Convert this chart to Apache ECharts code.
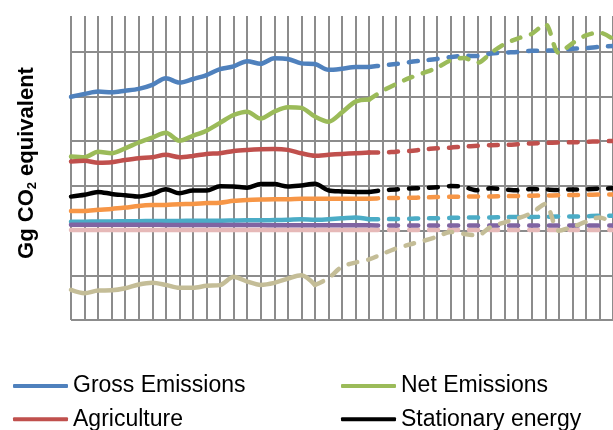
<!DOCTYPE html>
<html>
<head>
<meta charset="utf-8">
<script src="https://cdn.jsdelivr.net/npm/echarts@6/dist/echarts.min.js"></script>
<style>
  html, body { margin: 0; padding: 0; background: #ffffff; }
  #chart { width: 613px; height: 430px; }
</style>
</head>
<body>
<div id="chart"></div>
<script>
// Emissions by sector, Gg CO2 equivalent: inventory years then projections
const years = ['1990','1991','1992','1993','1994','1995','1996','1997','1998','1999',
  '2000','2001','2002','2003','2004','2005','2006','2007','2008','2009',
  '2010','2011','2012','2013','2014','2015','2016','2017','2018','2019',
  '2020','2021','2022','2023','2024','2025','2026','2027','2028','2029','2030'];

const grossEmissions = [59900, 61100, 62200, 61900, 62600, 63400, 65200, 68200, 66200, 67800,
  69600, 72200, 73500, 75800, 74600, 77100, 76800, 74800, 74500, 71900,
  72400, 73200, 73200, 73900, 74500, 75400, 76100, 76800, 77600, 78200,
  78100, 79200, 79600, 79900, 80400, 80500, 80700, 81300, 81600, 82200, 82600];

const netEmissions = [33100, 32800, 35300, 34600, 36800, 39400, 41600, 43800, 40200, 42400,
  44700, 48200, 51700, 53200, 50100, 53200, 55200, 54900, 51000, 48700,
  52900, 57700, 58600, 62500, 65600, 68300, 70500, 72800, 76100, 77200,
  75100, 79500, 83500, 86000, 88000, 92400, 79500, 83800, 87300, 88600, 85700];

const agriculture = [30900, 31200, 30400, 30600, 31600, 32400, 32800, 33900, 32800, 33400,
  34300, 34600, 35600, 36100, 36400, 36500, 36100, 34600, 33500, 33900,
  34300, 34600, 34900, 34900, 35300, 35600, 36300, 36800, 37100, 37600,
  37900, 38200, 38300, 38600, 39000, 39200, 39400, 39500, 39700, 39900, 40100];

const stationaryEnergy = [15200, 16000, 17300, 16400, 15800, 15200, 16400, 18500, 16700, 17900,
  17900, 19800, 19700, 19200, 20800, 20800, 19700, 20200, 20900, 18000,
  17500, 17300, 17300, 18000, 18400, 18800, 19100, 19400, 19900, 19500,
  18000, 18900, 18400, 18000, 18600, 18400, 18200, 18400, 18500, 18800, 18900];

const transport = [8800, 8800, 9300, 9700, 10300, 11000, 11400, 11500, 11800, 11900,
  12300, 12500, 13300, 13700, 13900, 14000, 14000, 14200, 14200, 14200,
  14200, 14200, 14200, 14500, 14600, 14700, 14800, 15000, 15100, 15200,
  15300, 15300, 15400, 15500, 15600, 15700, 15800, 15900, 16000, 16100, 16200];

const industrialProcesses = [4000, 4000, 4100, 4100, 4200, 4200, 4300, 4300, 4300, 4400,
  4400, 4400, 4500, 4600, 4600, 4700, 4800, 5100, 4800, 5100,
  5500, 5900, 5100, 5100, 5200, 5300, 5500, 5500, 5700, 5800,
  5800, 5900, 6000, 6100, 6100, 6200, 6300, 6300, 6400, 6600, 6600];

const waste = [2600, 2600, 2650, 2650, 2600, 2600, 2600, 2550, 2550, 2500,
  2500, 2500, 2450, 2450, 2450, 2400, 2400, 2400, 2400, 2350,
  2350, 2350, 2350, 2300, 2300, 2300, 2300, 2300, 2250, 2250,
  2250, 2250, 2250, 2250, 2250, 2250, 2250, 2250, 2250, 2250, 2250];

const solvents = [250, 250, 250, 250, 250, 250, 250, 250, 250, 250,
  250, 250, 250, 250, 250, 250, 250, 250, 250, 250,
  250, 250, 250, 250, 250, 250, 250, 250, 250, 250,
  250, 250, 250, 250, 250, 250, 250, 250, 250, 250, 250];

const lulucf = [-26500, -28000, -26800, -26700, -25800, -24100, -23300, -24300, -25600, -25600,
  -24700, -24400, -20700, -22800, -24300, -23400, -21500, -20000, -24300, -21300,
  -16100, -14300, -12900, -10400, -8000, -6200, -4600, -2800, -600, -1500,
  -2100, 1700, 3700, 5500, 7900, 11900, -100, 1700, 3900, 5900, 3400];

// Sector definitions: last inventory index (solid up to it, dashed projection after)
const sectors = [
  { name: 'Gross Emissions', values: grossEmissions, color: '#4F81BD', last: 22 },
  { name: 'Net Emissions', values: netEmissions, color: '#9BBB59', last: 22 },
  { name: 'Agriculture', values: agriculture, color: '#C0504D', last: 22 },
  { name: 'Stationary energy', values: stationaryEnergy, color: '#000000', last: 22 },
  { name: 'Transport', values: transport, color: '#F79646', last: 22 },
  { name: 'Industrial processes', values: industrialProcesses, color: '#4BACC6', last: 22 },
  { name: 'Solvents', values: solvents, color: '#E6B9B8', last: 22 },
  { name: 'Waste', values: waste, color: '#8064A2', last: 22 },
  { name: 'LULUCF', values: lulucf, color: '#C4BD97', last: 18 }
];

const leftColumn = ['Gross Emissions', 'Agriculture', 'Transport', 'Solvents', 'LULUCF'];
const rightColumn = ['Net Emissions', 'Stationary energy', 'Industrial processes', 'Waste'];

const GRID_COLOR = '#8c8c8c';
const FONT = '"Liberation Sans", Arial, sans-serif';
const LINE_WIDTH = 4.5;

const colorOf = {};
sectors.forEach(s => { colorOf[s.name] = s.color; });

const series = [];
sectors.forEach(s => {
  const base = {
    name: s.name,
    type: 'line',
    showSymbol: false,
    symbol: 'none',
    smooth: 0.3,
    silent: true,
    connectNulls: false,
    color: s.color,
    emphasis: { disabled: true }
  };
  series.push(Object.assign({}, base, {
    data: s.values.map((v, i) => (i <= s.last ? v : null)),
    lineStyle: { color: s.color, width: LINE_WIDTH, cap: 'round', join: 'round' }
  }));
  series.push(Object.assign({}, base, {
    data: s.values.map((v, i) => (i >= s.last ? v : null)),
    lineStyle: { color: s.color, width: LINE_WIDTH, type: [9, 11], cap: 'round', join: 'round' }
  }));
});

function legendColumn(names, left) {
  return {
    type: 'plain',
    orient: 'vertical',
    left: left,
    top: 368,
    height: 300,
    icon: 'roundRect',
    itemWidth: 55,
    itemHeight: 4,
    itemGap: 7.3,
    selectedMode: false,
    textStyle: { fontFamily: FONT, fontSize: 23, color: '#000', lineHeight: 26 },
    data: names.map(n => ({ name: n, itemStyle: { color: colorOf[n], borderWidth: 0 } }))
  };
}

const chart = echarts.init(document.getElementById('chart'), null, { renderer: 'canvas' });
chart.setOption({
  animation: false,
  backgroundColor: '#ffffff',
  grid: { left: 71, top: 16, right: -2, bottom: 110, containLabel: false },
  xAxis: {
    type: 'category',
    data: years,
    boundaryGap: false,
    axisLabel: { show: false, interval: 0 },
    axisTick: { show: false, interval: 0 },
    axisLine: { show: true, lineStyle: { color: GRID_COLOR, width: 2 } },
    splitLine: { show: true, interval: 0, lineStyle: { color: GRID_COLOR, width: 2 } }
  },
  yAxis: {
    type: 'value',
    min: -40000,
    max: 96000,
    interval: 20000,
    axisLabel: { show: false },
    axisTick: { show: false },
    axisLine: { show: false },
    splitLine: { show: true, showMaxLine: false, lineStyle: { color: GRID_COLOR, width: 2 } }
  },
  legend: [legendColumn(leftColumn, 8), legendColumn(rightColumn, 336)],
  graphic: [{
    type: 'text',
    x: 27,
    y: 163,
    rotation: Math.PI / 2,
    silent: true,
    style: {
      text: '{m|Gg CO}{s|2}{m| equivalent}',
      align: 'center',
      verticalAlign: 'middle',
      fill: '#000',
      rich: {
        m: { fontFamily: FONT, fontSize: 22, fontWeight: 'bold', lineHeight: 24, fill: '#000' },
        s: { fontFamily: FONT, fontSize: 13, fontWeight: 'bold', lineHeight: 12, verticalAlign: 'bottom', fill: '#000' }
      }
    }
  }],
  series: series
});
</script>
</body>
</html>
